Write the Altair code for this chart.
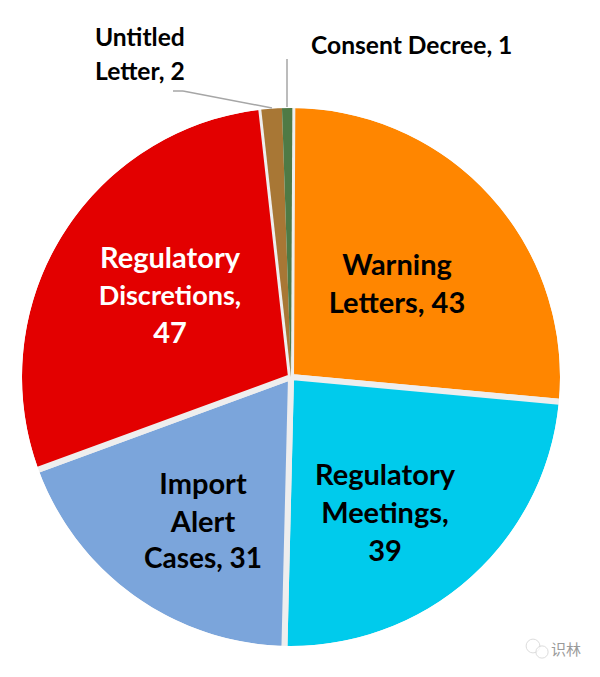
import altair as alt
import pandas as pd

categories = ["Warning Letters", "Regulatory Meetings", "Import Alert Cases",
              "Regulatory Discretions", "Untitled Letter", "Consent Decree"]
values = [43, 39, 31, 47, 2, 1]
colors = ["#ff8600", "#00cbec", "#7ba5db", "#e30000", "#a87735", "#4f7a45"]
orders = [1, 2, 3, 4, 5, 6]

df = pd.DataFrame({"category": categories, "value": values, "order": orders})

CX, CY = 283, 369
FONT = "Lato"
theta_enc = alt.Theta("value:Q", stack=True, scale=alt.Scale(range=[0.005, 6.28819]))
color_enc = alt.Color("category:N", scale=alt.Scale(domain=categories, range=colors), legend=None)

# main pie: large slices carry the pale separators
pie = alt.Chart(df).mark_arc(radius=272, stroke="#eeeeee", strokeJoin="miter").encode(
    theta=theta_enc,
    color=color_enc,
    order=alt.Order("order:Q"),
    strokeWidth=alt.condition("datum.value > 5", alt.value(6), alt.value(0)),
    opacity=alt.condition("datum.value > 5", alt.value(1), alt.value(0)),
    x=alt.value(CX),
    y=alt.value(CY),
)

# the two narrow slices sit on top of those separators
narrow = alt.Chart(df).mark_arc(radius=272).encode(
    theta=theta_enc,
    color=color_enc,
    order=alt.Order("order:Q"),
    opacity=alt.condition("datum.value > 5", alt.value(0), alt.value(1)),
    x=alt.value(CX),
    y=alt.value(CY),
)

# white ring trimming the slice strokes to a clean outer edge
ring = alt.Chart(pd.DataFrame({"a": [0]})).mark_arc(
    radius=279, radius2=269, theta=0, theta2=6.2832, color="white"
).encode(x=alt.value(CX), y=alt.value(CY))

# (text, x, y, colour, alignment, size) in chart pixels
label_lines = [
    ("Warning", 389, 258, "black", "center", 29),
    ("Letters, 43", 389, 296, "black", "center", 29),
    ("Regulatory", 377, 468, "black", "center", 29),
    ("Meetings,", 377, 506, "black", "center", 29),
    ("39", 377, 544, "black", "center", 29),
    ("Import", 195, 477, "black", "center", 29),
    ("Alert", 195, 515, "black", "center", 29),
    ("Cases, 31", 195, 552, "black", "center", 28),
    ("Regulatory", 162, 251, "white", "center", 29),
    ("Discretions,", 162, 289, "white", "center", 27),
    ("47", 162, 326, "white", "center", 29),
    ("Untitled", 87, 31, "black", "left", 24.6),
    ("Letter, 2", 87, 65, "black", "left", 24.6),
    ("Consent Decree, 1", 303, 39, "black", "left", 24.6),
]

layers = [pie, narrow, ring]
for text, x, y, col, align, size in label_lines:
    layers.append(
        alt.Chart(pd.DataFrame({"t": [text]})).mark_text(
            font=FONT, fontWeight="bold", fontSize=size,
            color=col, align=align, baseline="middle",
        ).encode(text="t:N", x=alt.value(x), y=alt.value(y))
    )

leader_segments = [
    (165, 175, 83, 83),
    (175, 264, 83, 100),
    (279, 279, 51, 99),
]
for x1, x2, y1, y2 in leader_segments:
    layers.append(
        alt.Chart(pd.DataFrame({"a": [0]})).mark_rule(color="#a6a6a6", strokeWidth=1.5).encode(
            x=alt.value(x1), x2=alt.value(x2), y=alt.value(y1), y2=alt.value(y2)
        )
    )

# watermark
layers.append(
    alt.Chart(pd.DataFrame({"t": ["识林"]})).mark_text(
        font="Noto Sans CJK SC", fontSize=15, color="#9a9a9a", align="left", baseline="middle"
    ).encode(text="t:N", x=alt.value(543), y=alt.value(642))
)
for x, y, s in [(525, 638, 190), (534, 644, 150)]:
    layers.append(
        alt.Chart(pd.DataFrame({"a": [0]})).mark_point(
            shape="circle", size=s, color="#cfcfcf", fill="white", filled=True, stroke="#cfcfcf", strokeWidth=1
        ).encode(x=alt.value(x), y=alt.value(y))
    )

chart = alt.layer(*layers).resolve_scale(theta="independent").properties(
    width=584, height=661,
    padding=0,
    autosize=alt.AutoSizeParams(type="none"),
).configure_view(stroke=None)

chart.save("out.html", embed_options={"renderer": "svg", "actions": False})
